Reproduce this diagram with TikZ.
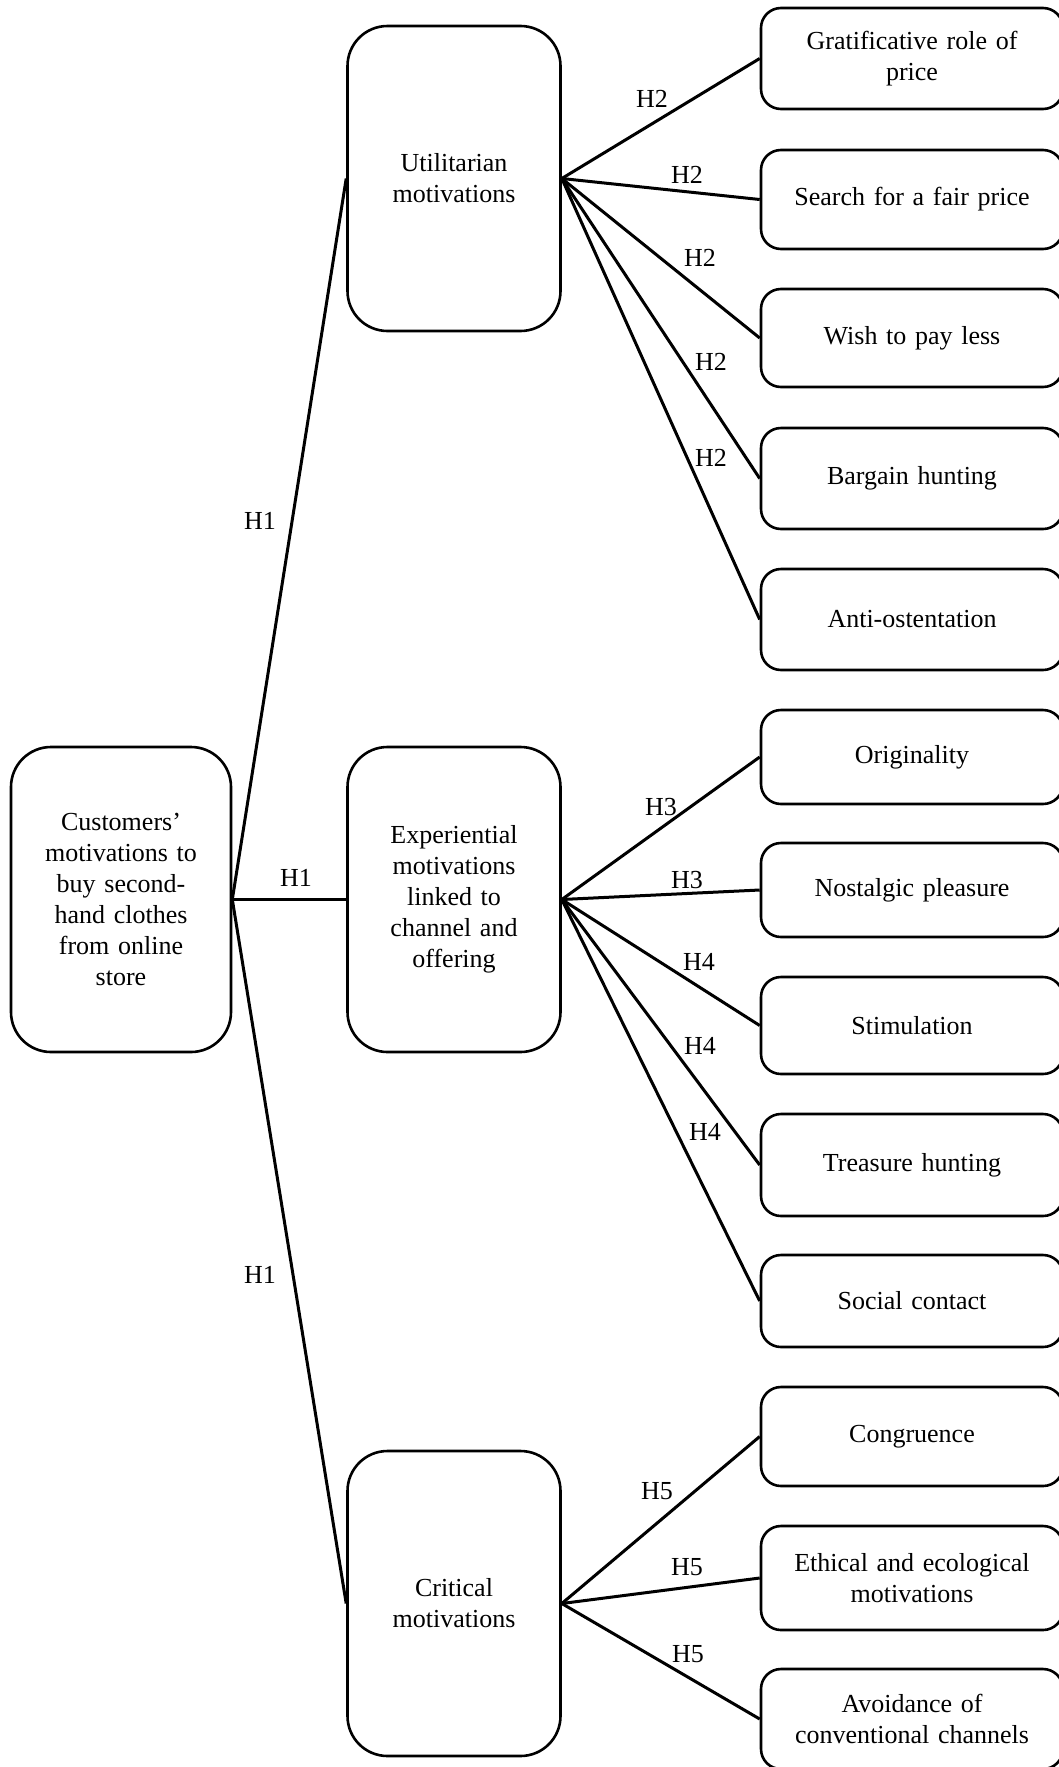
\documentclass[tikz,border=0pt]{standalone}
\usepackage{fontspec}
\setmainfont{Liberation Serif}
\begin{document}
\begin{tikzpicture}[x=1pt,y=-1pt,
  every node/.style={font=\fontsize{26}{31}\selectfont},
  bigbox/.style={draw, line width=2.6pt, rounded corners=40pt, inner sep=0pt, align=center,
     text width=#1, minimum height=305pt},
  rbox/.style={draw, line width=2.6pt, rounded corners=20pt, inner sep=0pt, align=center,
     text width=302pt, minimum height=#1},
  conn/.style={line width=3pt},
  lbl/.style={inner sep=0pt}]
\useasboundingbox (0,0) rectangle (1059,1767);
% main boxes
\node[bigbox=220pt] (root) at (121,899.5) {Customers’\\motivations to\\buy second-\\hand clothes\\from online\\store};
\node[bigbox=213pt] (util) at (454,178.5) {Utilitarian\\motivations};
\node[bigbox=213pt] (exp) at (454,899.5) {Experiential\\motivations\\linked to\\channel and\\offering};
\node[bigbox=213pt] (crit) at (454,1603.5) {Critical\\motivations};
% right boxes
\node[rbox=101pt] (r1) at (912,58.5) {Gratificative role of\\price};
\node[rbox=99pt] (r2) at (912,199.5) {Search for a fair price};
\node[rbox=98pt] (r3) at (912,338) {Wish to pay less};
\node[rbox=101pt] (r4) at (912,478.5) {Bargain hunting};
\node[rbox=101pt] (r5) at (912,619.5) {Anti-ostentation};
\node[rbox=94pt] (r6) at (912,757) {Originality};
\node[rbox=94pt] (r7) at (912,890) {Nostalgic pleasure};
\node[rbox=97pt] (r8) at (912,1025.5) {Stimulation};
\node[rbox=102pt] (r9) at (912,1165) {Treasure hunting};
\node[rbox=92pt] (r10) at (912,1301) {Social contact};
\node[rbox=99pt] (r11) at (912,1436.5) {Congruence};
\node[rbox=104pt] (r12) at (912,1578) {Ethical and ecological\\motivations};
\node[rbox=100pt] (r13) at (912,1719) {Avoidance of\\conventional channels};
% connectors
\draw[conn] (root.east) -- (util.west);
\draw[conn] (root.east) -- (exp.west);
\draw[conn] (root.east) -- (crit.west);
\foreach \t in {r1,r2,r3,r4,r5} \draw[conn] (util.east) -- (\t.west);
\foreach \t in {r6,r7,r8,r9,r10} \draw[conn] (exp.east) -- (\t.west);
\foreach \t in {r11,r12,r13} \draw[conn] (crit.east) -- (\t.west);
% labels
\node[lbl] (h1a) at (260,521) {H1};
\node[lbl] (h1b) at (296,878) {H1};
\node[lbl] (h1c) at (260,1275) {H1};
\node[lbl] (h2a) at (652,99) {H2};
\node[lbl] (h2b) at (687,175) {H2};
\node[lbl] (h2c) at (700,258) {H2};
\node[lbl] (h2d) at (711,362) {H2};
\node[lbl] (h2e) at (711,458) {H2};
\node[lbl] (h3a) at (661,807) {H3};
\node[lbl] (h3b) at (687,880) {H3};
\node[lbl] (h4a) at (699,962) {H4};
\node[lbl] (h4b) at (700,1046) {H4};
\node[lbl] (h4c) at (705,1132) {H4};
\node[lbl] (h5a) at (657,1491) {H5};
\node[lbl] (h5b) at (687,1567) {H5};
\node[lbl] (h5c) at (688,1654) {H5};
\end{tikzpicture}
\end{document}
